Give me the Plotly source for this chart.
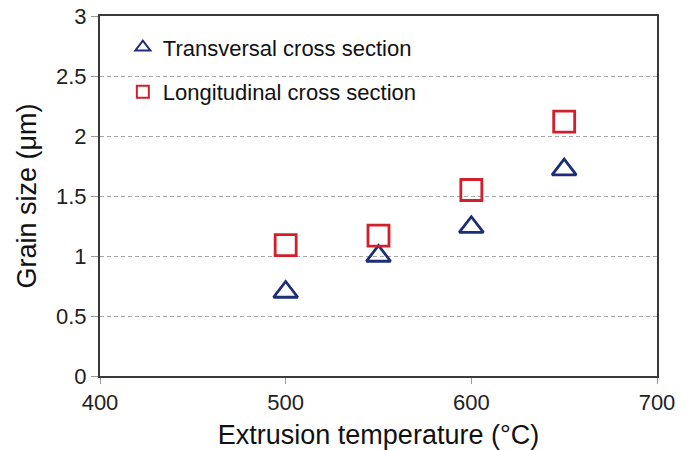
import plotly.graph_objects as go

# Extrusion temperature (°C) and measured grain size (µm)
temperature = [500, 550, 600, 650]
transversal = [0.70, 1.00, 1.24, 1.72]
longitudinal = [1.09, 1.17, 1.55, 2.12]

x_ticks = [400, 500, 600, 700]
y_ticks = [0, 0.5, 1, 1.5, 2, 2.5, 3]
y_tick_text = ["0", "0.5", "1", "1.5", "2", "2.5", "3"]

series_names = ["Transversal cross section", "Longitudinal cross section"]

navy = "#1C2E78"
red = "#D1202B"
axis_col = "#3A3A3A"
font_family = "Liberation Sans, Arial, sans-serif"

fig = go.Figure()

fig.add_trace(go.Scatter(
    x=temperature, y=transversal, mode="markers", showlegend=False,
    name=series_names[0],
    marker=dict(symbol="triangle-up-open", size=21, color=navy,
                line=dict(width=2.8, color=navy)),
))
fig.add_trace(go.Scatter(
    x=temperature, y=longitudinal, mode="markers", showlegend=False,
    name=series_names[1],
    marker=dict(symbol="square-open", size=21, color=red,
                line=dict(width=2.8, color=red)),
))

# Legend entries with smaller key symbols
fig.add_trace(go.Scatter(
    x=[None], y=[None], mode="markers", name=series_names[0], legendgroup="t",
    marker=dict(symbol="triangle-up-open", size=13, color=navy,
                line=dict(width=2, color=navy)),
))
fig.add_trace(go.Scatter(
    x=[None], y=[None], mode="markers", name=series_names[1], legendgroup="l",
    marker=dict(symbol="square-open", size=12, color=red,
                line=dict(width=2, color=red)),
))

fig.update_layout(
    width=691, height=450,
    margin=dict(l=100, r=34, t=16, b=74),
    paper_bgcolor="white", plot_bgcolor="white",
    font=dict(family=font_family, size=22, color="#222222"),
    showlegend=True,
    legend=dict(x=0.041, y=0.971, xanchor="left", yanchor="top",
                bgcolor="rgba(0,0,0,0)", font=dict(size=22, color="#111111"),
                tracegroupgap=13, itemwidth=30),
)
fig.update_xaxes(
    range=[400, 700], tickvals=x_ticks, ticktext=[str(v) for v in x_ticks],
    showgrid=False, zeroline=False, automargin=False,
    showline=True, linecolor=axis_col, linewidth=2, mirror=True,
    ticks="outside", ticklen=6, tickcolor="#999999", tickwidth=1,
    tickfont=dict(size=22, color="#222222"),
    title=dict(text="Extrusion temperature (°C)", font=dict(size=27, color="#111111"), standoff=11),
)
fig.update_yaxes(
    range=[0, 3], tickvals=y_ticks, ticktext=y_tick_text,
    showgrid=True, gridcolor="#A8A8A8", griddash="4px,3px", gridwidth=1,
    zeroline=False, automargin=False,
    showline=True, linecolor=axis_col, linewidth=2, mirror=True,
    ticks="outside", ticklen=7, tickcolor="#999999", tickwidth=1,
    tickfont=dict(size=22, color="#222222"),
    title=dict(text="Grain size (μm)", font=dict(size=27, color="#111111"), standoff=12),
)

fig.write_html("out.html")
